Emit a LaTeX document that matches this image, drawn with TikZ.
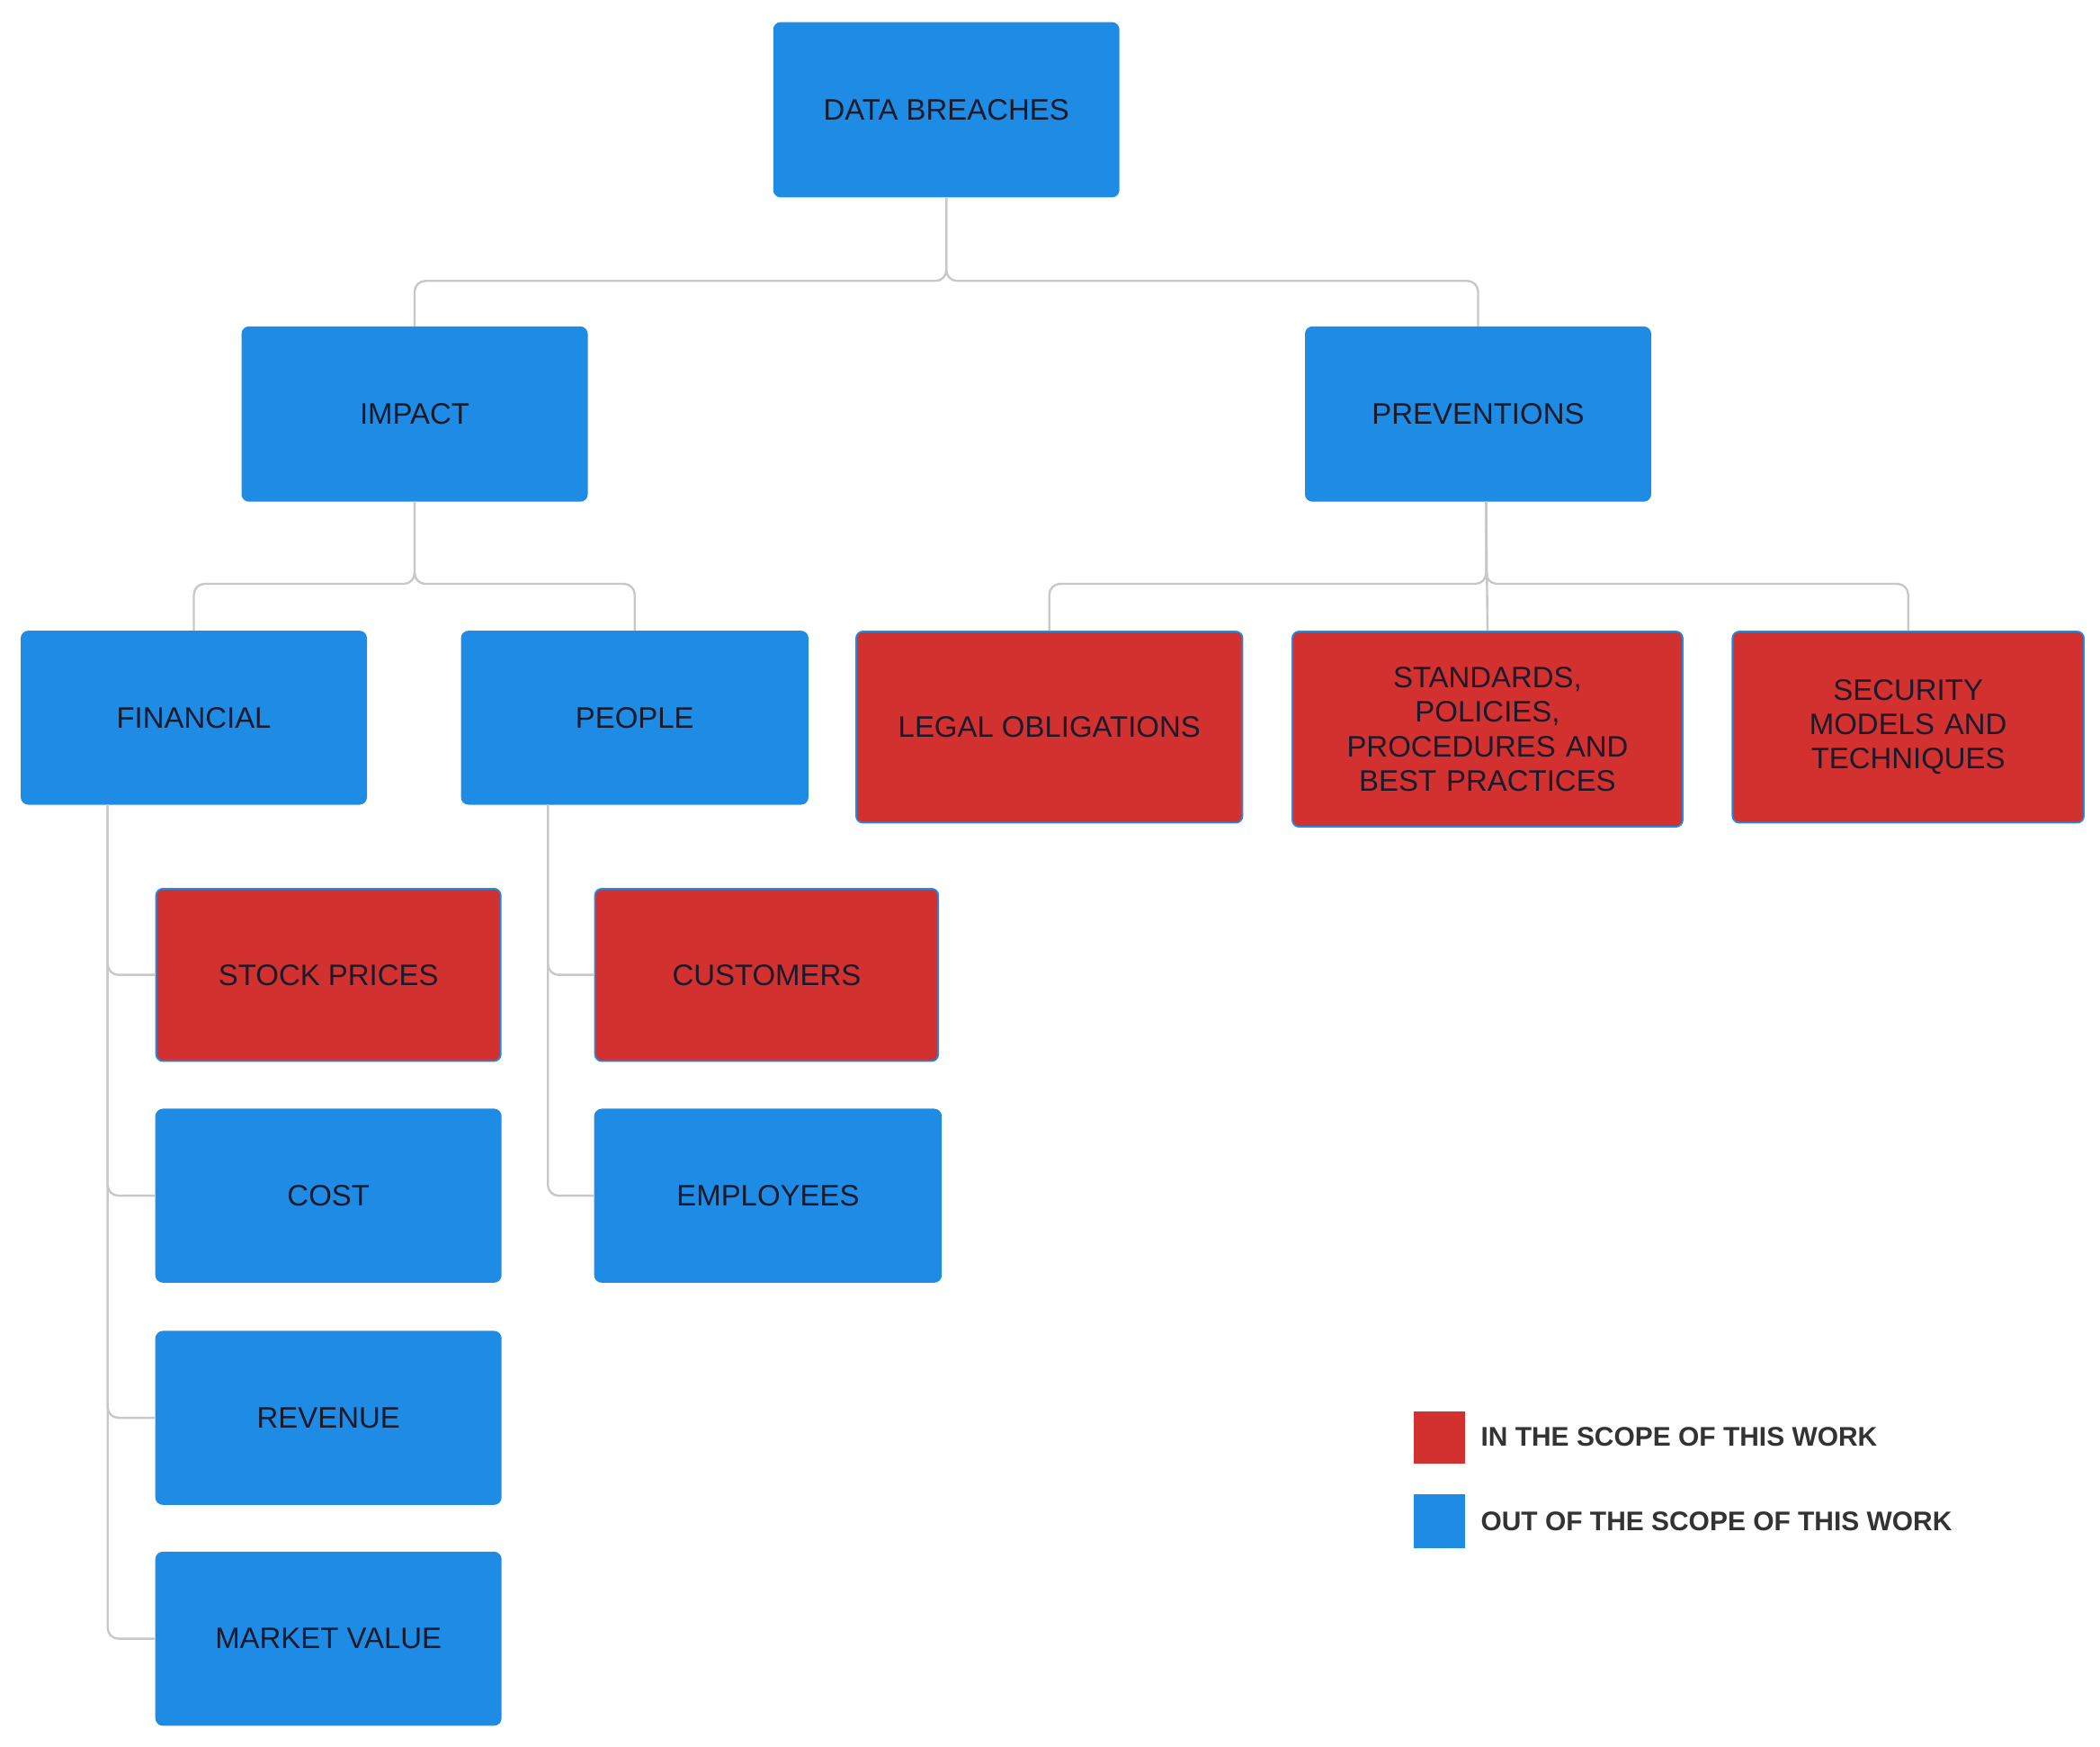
\documentclass[tikz,border=0pt]{standalone}
\usepackage{fontspec}
\setmainfont{Liberation Sans}
\definecolor{bl}{HTML}{1E8BE4}
\definecolor{rd}{HTML}{D33030}
\definecolor{ln}{HTML}{C8C8C8}
\definecolor{tx}{HTML}{1A1A2A}
\begin{document}
\begin{tikzpicture}[x=0.5pt,y=-0.5pt,
 box/.style={rectangle,rounded corners=2.5pt,draw=bl,line width=0.6pt,text=tx,align=center,font=\fontsize{11}{12.8}\selectfont,inner sep=2pt},
 B/.style={box,fill=bl},
 R/.style={box,fill=rd},
 conn/.style={draw=ln,line width=0.8pt,rounded corners=4pt},
 leg/.style={font=\fontsize{10}{12}\selectfont\bfseries,text=black!80,anchor=west}]
\useasboundingbox (0,0) rectangle (1560,1297);
\node[B,minimum width=128pt,minimum height=64.5pt] (db) at (703,81.5) {DATA BREACHES};
\node[B,minimum width=128pt,minimum height=64.5pt] (imp) at (308,307.5) {IMPACT};
\node[B,minimum width=128pt,minimum height=64.5pt] (prev) at (1098,307.5) {PREVENTIONS};
\node[B,minimum width=128pt,minimum height=64pt] (fin) at (144,533) {FINANCIAL};
\node[B,minimum width=128.5pt,minimum height=64pt] (peo) at (471.5,533) {PEOPLE};
\node[R,minimum width=143.5pt,minimum height=71pt] (leg) at (779.5,540) {LEGAL OBLIGATIONS};
\node[R,minimum width=145pt,minimum height=72.5pt,text width=120pt] (std) at (1105,541.5) {STANDARDS,\\POLICIES,\\PROCEDURES AND\\BEST PRACTICES};
\node[R,minimum width=130.5pt,minimum height=71pt,text width=110pt] (sec) at (1417.5,540) {SECURITY\\MODELS AND\\TECHNIQUES};
\node[R,minimum width=128pt,minimum height=64pt] (stock) at (244,724) {STOCK PRICES};
\node[R,minimum width=127.5pt,minimum height=64pt] (cust) at (569.5,724) {CUSTOMERS};
\node[B,minimum width=128pt,minimum height=64pt] (cost) at (244,888) {COST};
\node[B,minimum width=128.5pt,minimum height=64pt] (emp) at (570.5,888) {EMPLOYEES};
\node[B,minimum width=128pt,minimum height=64pt] (rev) at (244,1053) {REVENUE};
\node[B,minimum width=128pt,minimum height=64pt] (mv) at (244,1217) {MARKET VALUE};
\draw[conn] (db.south) -- ++(0,62) -| (imp.north);
\draw[conn] (db.south) -- ++(0,62) -| (prev.north);
\draw[conn] (imp.south) -- ++(0,61) -| (fin.north);
\draw[conn] (imp.south) -- ++(0,61) -| (peo.north);
\draw[conn] ([xshift=3pt]prev.south) -- ++(0,61) -| (leg.north);
\draw[conn] ([xshift=3pt]prev.south) -- (std.north);
\draw[conn] ([xshift=3pt]prev.south) -- ++(0,61) -| (sec.north);
\draw[conn] ([xshift=-32pt]fin.south) |- (stock.west);
\draw[conn] ([xshift=-32pt]fin.south) |- (cost.west);
\draw[conn] ([xshift=-32pt]fin.south) |- (rev.west);
\draw[conn] ([xshift=-32pt]fin.south) |- (mv.west);
\draw[conn] ([xshift=-32.25pt]peo.south) |- (cust.west);
\draw[conn] ([xshift=-32.25pt]peo.south) |- (emp.west);
\node[rectangle,fill=rd,minimum width=19pt,minimum height=19.5pt,inner sep=0] (lr) at (1069,1067.5) {};
\node[rectangle,fill=bl,minimum width=19pt,minimum height=20pt,inner sep=0] (lb) at (1069,1130) {};
\node[leg] (lrt) at (1093,1067) {IN THE SCOPE OF THIS WORK};
\node[leg] (lbt) at (1093,1130) {OUT OF THE SCOPE OF THIS WORK};
\end{tikzpicture}
\end{document}
